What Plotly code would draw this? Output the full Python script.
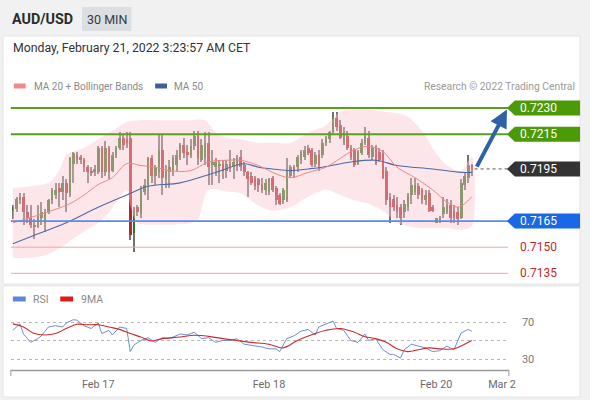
import plotly.graph_objects as go

W, H = 590, 400
def px(x): return x / W
def py(y): return 1 - y / H

# ---------------- data (AUD/USD, 30 min candles) ----------------
opens = [
.7171,.7172,.7177,.7179,.7170,.7167,.7163,.7162,.7167,.7164,
.7170,.7177,.7180,.7184,.7182,.7187,.7181,.7198,.7203,.7202,
.7200,.7196,.7194,.7193,.7193,.7207,.7193,.7207,.7194,.7203,
.7207,.7213,.7212,.7213,.7158,.7173,.7169,.7182,.7186,.7201,
.7191,.7193,.7206,.7189,.7193,.7194,.7197,.7202,.7209,.7205,
.7203,.7208,.7214,.7200,.7201,.7210,.7197,.7196,.7197,.7198,
.7194,.7198,.7196,.7197,.7202,.7197,.7193,.7191,.7190,.7189,
.7186,.7183,.7182,.7190,.7184,.7180,.7177,.7177,.7191,.7196,
.7196,.7200,.7202,.7207,.7206,.7198,.7203,.7203,.7210,.7212,
.7216,.7224,.7220,.7210,.7214,.7207,.7206,.7198,.7204,.7210,
.7213,.7202,.7207,.7205,.7204,.7194,.7179,.7178,.7174,.7173,
.7170,.7173,.7180,.7182,.7185,.7183,.7177,.7181,.7173,.7164,
.7166,.7169,.7170,.7174,.7171,.7170,.7167,.7186,.7190,.7197]
highs = [
.7174,.7179,.7181,.7181,.7174,.7174,.7166,.7174,.7176,.7172,
.7178,.7184,.7187,.7187,.7191,.7189,.7202,.7205,.7205,.7203,
.7201,.7197,.7196,.7197,.7208,.7208,.7211,.7208,.7205,.7208,
.7216,.7215,.7216,.7216,.7173,.7174,.7185,.7189,.7202,.7203,
.7197,.7215,.7215,.7197,.7200,.7203,.7206,.7210,.7213,.7209,
.7212,.7217,.7217,.7212,.7216,.7216,.7206,.7201,.7200,.7200,
.7200,.7206,.7201,.7203,.7206,.7199,.7194,.7193,.7191,.7190,
.7190,.7189,.7190,.7191,.7185,.7181,.7184,.7201,.7197,.7197,
.7203,.7206,.7208,.7209,.7207,.7205,.7206,.7212,.7214,.7217,
.7228,.7228,.7223,.7219,.7217,.7209,.7207,.7206,.7212,.7219,
.7217,.7209,.7209,.7207,.7206,.7196,.7181,.7180,.7179,.7175,
.7177,.7181,.7190,.7190,.7187,.7184,.7183,.7183,.7174,.7167,
.7168,.7179,.7178,.7177,.7174,.7173,.7189,.7193,.7203,.7198]
lows = [
.7166,.7170,.7175,.7163,.7164,.7161,.7155,.7161,.7163,.7159,
.7169,.7175,.7178,.7173,.7177,.7170,.7179,.7187,.7198,.7198,
.7193,.7187,.7191,.7191,.7192,.7190,.7191,.7189,.7193,.7201,
.7206,.7206,.7207,.7154,.7147,.7168,.7167,.7180,.7177,.7187,
.7186,.7190,.7180,.7184,.7184,.7191,.7194,.7200,.7201,.7197,
.7201,.7206,.7197,.7199,.7197,.7186,.7186,.7191,.7187,.7189,
.7190,.7193,.7189,.7194,.7194,.7191,.7179,.7186,.7183,.7182,
.7181,.7180,.7180,.7182,.7174,.7174,.7175,.7176,.7190,.7190,
.7193,.7198,.7200,.7203,.7196,.7196,.7194,.7201,.7208,.7210,
.7215,.7217,.7212,.7209,.7206,.7200,.7196,.7197,.7203,.7209,
.7201,.7200,.7197,.7199,.7189,.7174,.7164,.7171,.7167,.7163,
.7167,.7171,.7175,.7180,.7178,.7175,.7174,.7170,.7170,.7164,
.7164,.7167,.7169,.7164,.7164,.7163,.7166,.7183,.7187,.7191]
closes = [
.7173,.7178,.7179,.7170,.7167,.7163,.7162,.7168,.7170,.7170,
.7177,.7183,.7183,.7182,.7187,.7181,.7201,.7204,.7200,.7200,
.7196,.7193,.7193,.7195,.7207,.7193,.7207,.7193,.7203,.7207,
.7213,.7209,.7210,.7157,.7171,.7170,.7183,.7186,.7201,.7191,
.7196,.7206,.7190,.7194,.7196,.7201,.7203,.7209,.7204,.7203,
.7208,.7214,.7201,.7209,.7210,.7196,.7199,.7199,.7198,.7194,
.7198,.7196,.7199,.7201,.7196,.7193,.7189,.7187,.7185,.7186,
.7183,.7187,.7189,.7183,.7177,.7175,.7183,.7194,.7196,.7193,
.7202,.7205,.7206,.7204,.7197,.7203,.7197,.7210,.7213,.7216,
.7224,.7219,.7213,.7216,.7207,.7202,.7197,.7205,.7210,.7214,
.7203,.7207,.7198,.7200,.7190,.7177,.7173,.7173,.7170,.7167,
.7175,.7180,.7186,.7186,.7180,.7177,.7180,.7171,.7171,.7167,
.7167,.7173,.7174,.7167,.7167,.7166,.7187,.7191,.7197,.7195]

ma20_idx = [0, 8, 16, 20, 24, 28, 32, 36, 40, 44, 50, 55, 60, 64, 69, 73, 78, 83, 88,
            92, 96, 100, 104, 108, 113, 118, 122, 125, 127, 129]
ma20_val = [.7164, .7169, .7175, .7180, .7186, .7190, .7198, .7197, .7196, .7194, .7194,
            .7199, .7200, .7200, .7197, .7193, .7190, .7193, .7196, .7201, .7206, .7208,
            .7205, .7196, .7190, .7183, .7176, .7173, .7175, .7179]

ma50_idx = [0, 5, 15, 24, 32, 38, 47, 57, 65, 69, 73, 78, 83, 87, 95, 102, 108, 118, 126, 129]
ma50_val = [.7152, .7156, .7164, .7173, .7180, .7185, .7187, .7193, .7198, .7196, .7195,
            .7194, .7195, .7196, .7199, .7200, .7197, .7195, .7193, .7193]

bbu_idx = [0, 5, 10, 13, 15, 20, 24, 28, 32, 36, 40, 45, 50, 54, 57, 60, 64, 69, 73, 78,
           83, 88, 92, 96, 100, 104, 108, 111, 115, 119, 122, 126, 129]
bbu_val = [.7184, .7185, .7187, .7194, .7203, .7207, .7212, .7217, .7222, .7223, .7223,
           .7223, .7223, .7223, .7216, .7213, .7212, .7210, .7210, .7210, .7216, .7220,
           .7228, .7229, .7229, .7228, .7227, .7225, .7217, .7204, .7197, .7194, .7202]
bbl_idx = [0, 5, 10, 15, 20, 24, 27, 32, 33, 35, 40, 45, 50, 52, 55, 60, 64, 69, 73, 78,
           83, 88, 92, 96, 100, 104, 108, 111, 115, 119, 122, 126, 129]
bbl_val = [.7144, .7144, .7146, .7152, .7159, .7164, .7170, .7183, .7174, .7164, .7163,
           .7163, .7164, .7166, .7183, .7182, .7181, .7174, .7171, .7173, .7179, .7183,
           .7180, .7177, .7175, .7171, .7164, .7162, .7161, .7161, .7161, .7160, .7162]

rsi_idx = [0, 2, 3, 5, 7, 8, 10, 12, 14, 15, 17, 18, 20, 22, 24, 25, 27, 28, 30, 32, 33,
           34, 36, 38, 40, 42, 44, 47, 49, 51, 53, 55, 57, 59, 61, 63, 65, 67, 70, 72, 74,
           75, 77, 79, 81, 83, 85, 86, 88, 90, 91, 93, 95, 97, 99, 100, 102, 104, 106, 107,
           109, 110, 112, 114, 116, 118, 120, 122, 124, 126, 127, 128, 129]
rsi_val = [61, 68, 57, 48, 52, 55, 64.6, 66, 64.6, 69, 72.5, 72, 66, 63, 69, 57.5, 61, 56,
           64.6, 63, 38, 45, 50, 53, 48, 53, 52, 57, 56, 59, 52, 53, 48, 50, 50, 52, 46, 45,
           43, 41, 41, 38, 52, 55, 60, 62, 56, 64.6, 68, 71, 63, 61, 50, 48, 57, 50, 52, 40,
           35, 35, 31, 40, 46, 44, 42, 38, 39, 44, 40, 58, 60, 62, 60]
ma9_idx = [0, 3, 6, 9, 12, 15, 18, 21, 24, 27, 30, 33, 36, 39, 42, 47, 51, 55, 59, 63, 67,
           72, 76, 80, 85, 88, 92, 96, 99, 102, 105, 108, 111, 114, 117, 120, 124, 127, 129]
ma9_val = [68, 64.6, 57.5, 56, 57.5, 63, 67.5, 67, 67, 64.6, 62, 57.5, 53.8, 49.5, 52, 53.8,
           55.6, 54.5, 52, 50, 48, 46, 42, 50, 57.5, 61, 63, 59, 54, 52, 48, 41, 38, 40, 42,
           41, 41, 46, 50]

level_vals = [0.7230, 0.7215, 0.7195, 0.7165, 0.7150, 0.7135]
level_kind = ["res", "res", "last", "sup", "weak", "weak"]
level_text = ["0.7230", "0.7215", "0.7195", "0.7165", "0.7150", "0.7135"]

x_ticks = [24, 72, 119, 137.5]
x_ticktext = ["Feb 17", "Feb 18", "Feb 20", "Mar 2"]
rsi_ticks = [30, 50, 70]
rsi_ticktext = ["30", "", "70"]

target_idx, target_val = 138.9, 0.72292   # forecast arrow head
# ---------------------------------------------------------------

FONT = "Roboto, 'Liberation Sans', Arial, sans-serif"
idx = list(range(len(closes)))
X_RANGE = [-0.556, 139.44]
Y_RANGE = [0.7130, 0.72375]
Y_PIX = (95, 282)
R_RANGE = [18.11, 88.38]
R_PIX = (305, 370)
price_per_px = (Y_RANGE[1] - Y_RANGE[0]) / (Y_PIX[1] - Y_PIX[0])

fig = go.Figure()

# Bollinger band polygon
fig.add_trace(go.Scatter(
    x=bbu_idx + bbl_idx[::-1], y=bbu_val + bbl_val[::-1],
    fill="toself", fillcolor="rgba(250,200,206,0.45)", mode="lines",
    line=dict(width=0, shape="spline", smoothing=0.8), hoverinfo="skip", showlegend=False))

# candle wicks (grey thin bars) and bodies (coloured bars)
wick_h = [h - l for h, l in zip(highs, lows)]
fig.add_trace(go.Bar(x=idx, y=wick_h, base=lows, width=0.3,
                     marker=dict(color="#727272", line=dict(width=0)),
                     hoverinfo="skip", showlegend=False))
body_lo = [min(o, c) for o, c in zip(opens, closes)]
body_h = [max(abs(c - o), 0.00004) for o, c in zip(opens, closes)]
body_col = ["#35711f" if c >= o else "#b3262b" for o, c in zip(opens, closes)]
fig.add_trace(go.Bar(x=idx, y=body_h, base=body_lo, width=0.74,
                     marker=dict(color=body_col, line=dict(width=0)),
                     hoverinfo="skip", showlegend=False))

# MA lines
fig.add_trace(go.Scatter(x=ma50_idx, y=ma50_val, mode="lines",
                         line=dict(color="#4d6aa6", width=1.1, shape="spline"),
                         hoverinfo="skip", showlegend=False))
fig.add_trace(go.Scatter(x=ma20_idx, y=ma20_val, mode="lines",
                         line=dict(color="#ee8686", width=1, shape="spline"),
                         hoverinfo="skip", showlegend=False))

# RSI panel
fig.add_trace(go.Scatter(x=rsi_idx, y=rsi_val, mode="lines", xaxis="x2", yaxis="y2",
                         line=dict(color="#6d8fd6", width=1), hoverinfo="skip",
                         showlegend=False))
fig.add_trace(go.Scatter(x=ma9_idx, y=ma9_val, mode="lines", xaxis="x2", yaxis="y2",
                         line=dict(color="#cf2a2a", width=1.1, shape="spline"),
                         hoverinfo="skip", showlegend=False))

shapes = []
ann = []

# background cards
shapes.append(dict(type="rect", xref="paper", yref="paper", x0=px(3), x1=px(587),
                   y0=py(284), y1=py(36), fillcolor="white", line=dict(color="#e4e4e4", width=1),
                   layer="below"))
shapes.append(dict(type="rect", xref="paper", yref="paper", x0=px(3), x1=px(587),
                   y0=py(397), y1=py(286), fillcolor="white", line=dict(color="#e4e4e4", width=1),
                   layer="below"))
# 30 MIN box
shapes.append(dict(type="rect", xref="paper", yref="paper", x0=px(83), x1=px(133),
                   y0=py(31), y1=py(7), fillcolor="#dcdfe2", line=dict(width=0), layer="below"))

# legend swatches
def swatch(x0, x1, yc, color):
    shapes.append(dict(type="rect", xref="paper", yref="paper", x0=px(x0), x1=px(x1),
                       y0=py(yc + 2.5), y1=py(yc - 2.5), fillcolor=color, line=dict(width=0)))
swatch(14, 26, 86, "#f08a8a")
swatch(157, 169, 86, "#3e5f98")
swatch(13, 26, 299, "#5f86d8")
swatch(61, 74, 299, "#e01b1b")

# level lines and labels
styles = {
    "res": dict(line="#5aa01e", lw=2, box="#4c9a08", txt="white"),
    "last": dict(line=None, lw=0, box="#333333", txt="white"),
    "sup": dict(line="#5b8be8", lw=1.6, box="#1a68e6", txt="white"),
    "weak": dict(line="#f2a4a4", lw=1, box=None, txt="#c62828"),
}
half = 7.5 * price_per_px
for v, k, t in zip(level_vals, level_kind, level_text):
    s = styles[k]
    if s["line"]:
        shapes.append(dict(type="line", xref="paper", yref="y", x0=px(11), x1=px(514),
                           y0=v, y1=v, line=dict(color=s["line"], width=s["lw"])))
    if s["box"]:
        path = (f"M {px(513)},{v} L {px(521)},{v + half} L {px(587)},{v + half} "
                f"L {px(587)},{v - half} L {px(521)},{v - half} Z")
        shapes.append(dict(type="path", xref="paper", yref="y", path=path,
                           fillcolor=s["box"], line=dict(width=0)))
    ann.append(dict(xref="paper", yref="y", x=px(524), y=v, text=t, showarrow=False,
                    xanchor="left", yanchor="middle",
                    font=dict(family=FONT, size=12, color=s["txt"])))

# dotted line from last candle to current price label
shapes.append(dict(type="line", xref="x", yref="y", x0=idx[-1] + 0.8, x1=X_RANGE[1] - 0.4,
                   y0=level_vals[2], y1=level_vals[2],
                   line=dict(color="#555555", width=1, dash="dot")))

# forecast arrow
ann.append(dict(x=target_idx, y=target_val, xref="x", yref="y",
                ax=idx[-1] + 1.2, ay=closes[-1] + 0.00005, axref="x", ayref="y",
                showarrow=True, arrowhead=2, arrowsize=0.9, arrowwidth=4,
                arrowcolor="#2d62a4", text=""))

# RSI axis baseline with end ticks
shapes.append(dict(type="line", xref="paper", yref="paper", x0=px(11), x1=px(515),
                   y0=py(370.5), y1=py(370.5), line=dict(color="#9a9a9a", width=1.5)))
for xx in (11, 515):
    shapes.append(dict(type="line", xref="paper", yref="paper", x0=px(xx), x1=px(xx),
                       y0=py(370), y1=py(376), line=dict(color="#9a9a9a", width=1)))

# texts
def text(x, y, s, size, color, bold=False, anchor="left"):
    ann.append(dict(xref="paper", yref="paper", x=px(x), y=py(y), text=(f"<b>{s}</b>" if bold else s),
                    showarrow=False, xanchor=anchor, yanchor="middle",
                    font=dict(family=FONT, size=size, color=color)))

text(10, 19.5, "AUD/USD", 14.3, "#2b2b2b", bold=True)
text(108, 19.5, "30 MIN", 12.5, "#3a3a3a", anchor="center")
text(11, 48, "Monday, February 21, 2022 3:23:57 AM CET", 12.3, "#333333")
text(32, 86.5, "MA 20 + Bollinger Bands", 10, "#8a8a8a")
text(174, 86.5, "MA 50", 10, "#8a8a8a")
text(584, 86.5, "Research © 2022 Trading Central", 10.3, "#9a9a9a", anchor="right")
text(31, 299.5, "RSI", 10.5, "#8a8a8a")
text(80, 299.5, "9MA", 10.5, "#8a8a8a")

fig.update_layout(
    width=W, height=H, margin=dict(l=0, r=0, t=0, b=0),
    paper_bgcolor="#f1f1f1", plot_bgcolor="rgba(0,0,0,0)",
    showlegend=False, hovermode=False, barmode="overlay", bargap=0,
    font=dict(family=FONT),
    xaxis=dict(domain=[px(11), px(515)], range=X_RANGE, visible=False,
               rangeslider=dict(visible=False), anchor="y", fixedrange=True),
    yaxis=dict(domain=[py(Y_PIX[1]), py(Y_PIX[0])], range=Y_RANGE, visible=False,
               anchor="x", fixedrange=True),
    xaxis2=dict(domain=[px(11), px(515)], range=X_RANGE, anchor="y2",
                tickvals=x_ticks, ticktext=x_ticktext, ticks="", showgrid=False,
                zeroline=False, showline=False, ticklabelstandoff=6,
                tickfont=dict(family=FONT, size=10.8, color="#6a6a6a"),
                rangeslider=dict(visible=False), fixedrange=True),
    yaxis2=dict(domain=[py(R_PIX[1]), py(R_PIX[0])], range=R_RANGE, anchor="x2",
                side="right", tickvals=rsi_ticks, ticktext=rsi_ticktext,
                showgrid=True, griddash="dot", gridcolor="#b8b8b8", gridwidth=1,
                zeroline=False, showline=False, ticks="", ticklabelstandoff=12,
                tickfont=dict(family=FONT, size=11, color="#7a7a7a"), fixedrange=True),
    shapes=shapes, annotations=ann,
)

fig.write_html("out.html", config={"displayModeBar": False},
               post_script="document.body.style.margin='0';document.body.style.padding='0';")
